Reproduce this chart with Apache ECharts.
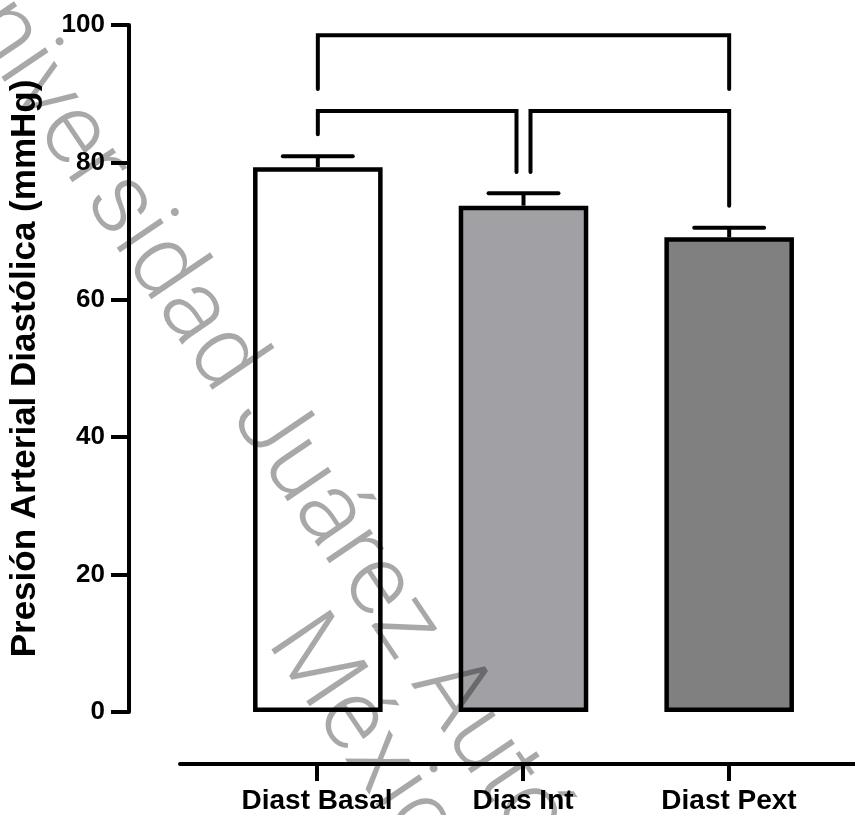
<!DOCTYPE html>
<html lang="es">
<head>
<meta charset="utf-8">
<title>Presión Arterial Diastólica</title>
<script src="https://cdn.jsdelivr.net/npm/echarts@6/dist/echarts.min.js"></script>
<style>
  html, body { margin: 0; padding: 0; background: #fff; }
  #main { width: 855px; height: 815px; }
</style>
</head>
<body>
<div id="main"></div>
<script>
// datos
var categorias = ['Diast Basal', 'Dias Int', 'Diast Pext'];
var medias = [79.3, 73.7, 69.1];
var errores = [1.6, 1.8, 1.4];
var colores = ['#ffffff', '#a1a0a5', '#808080'];
var yTicks = [0, 20, 40, 60, 80, 100];

// corchetes de comparación: [desde, hasta, altura, fin izq, fin der]
var corchetes = [
  [0, 2, 98.5, 90.7, 90.7],
  [0, 1, 87.5, 84.1, 78.6],
  [1, 2, 87.5, 78.6, 73.7]
];

var marcaAgua = ['Universidad Juárez Autónoma de Tabasco', 'México'];

var chart = echarts.init(document.getElementById('main'));
var fuente = '"Liberation Sans", Arial, sans-serif';

function compartido(idx, cat, alto) {
  // otro corchete a la misma altura que toca la misma categoría
  for (var k = 0; k < corchetes.length; k++) {
    if (k === idx || corchetes[k][2] !== alto) continue;
    if (corchetes[k][0] === cat || corchetes[k][1] === cat) return true;
  }
  return false;
}

chart.setOption({
  animation: false,
  backgroundColor: '#fff',
  grid: [
    { left: 214, right: 23, top: 25, bottom: 103 },   // barras
    { left: 180, right: 0, top: 25, bottom: 51 },     // línea del eje x
    { left: 214, right: 23, top: 25, bottom: 51 }     // marcas y etiquetas x
  ],
  xAxis: [{
    type: 'category',
    gridIndex: 0,
    data: categorias,
    show: false
  }, {
    type: 'value',
    gridIndex: 1,
    min: 0, max: 1,
    axisLine: { show: true, lineStyle: { color: '#000', width: 4 } },
    axisTick: { show: false },
    axisLabel: { show: false },
    splitLine: { show: false }
  }, {
    type: 'category',
    gridIndex: 2,
    data: categorias,
    axisLine: { show: false },
    axisTick: { show: true, alignWithLabel: true, length: 18, lineStyle: { color: '#000', width: 4 } },
    axisLabel: { color: '#000', fontSize: 28, fontWeight: 'bold', fontFamily: fuente, margin: 24 },
    splitLine: { show: false }
  }],
  yAxis: [{
    type: 'value',
    gridIndex: 0,
    min: yTicks[0], max: yTicks[yTicks.length - 1], interval: 20,
    offset: 86,
    name: 'Presión Arterial Diastólica (mmHg)',
    nameLocation: 'middle',
    nameGap: 86,
    nameTextStyle: { color: '#000', fontSize: 35, fontWeight: 'bold', fontFamily: fuente },
    axisLine: { show: true, lineStyle: { color: '#000', width: 4 } },
    axisTick: { show: true, length: 18, lineStyle: { color: '#000', width: 4 } },
    axisLabel: { color: '#000', fontSize: 26, fontWeight: 'bold', fontFamily: fuente, margin: 24 },
    splitLine: { show: false }
  }, {
    type: 'value', gridIndex: 1, show: false, min: 0, max: 100
  }, {
    type: 'value', gridIndex: 2, show: false, min: 0, max: 100
  }],
  series: [{
    type: 'bar',
    xAxisIndex: 0, yAxisIndex: 0,
    barWidth: '63%',
    data: medias.map(function (v, i) {
      return { value: v, itemStyle: { color: colores[i] } };
    }),
    itemStyle: { borderColor: '#000', borderWidth: 4.5 },
    z: 2
  }, {
    type: 'custom',
    name: 'error',
    xAxisIndex: 0, yAxisIndex: 0,
    data: medias.map(function (v, i) { return [i, v, v + errores[i]]; }),
    renderItem: function (params, api) {
      var base = api.coord([api.value(0), api.value(1)]);
      var top = api.coord([api.value(0), api.value(2)]);
      var half = api.size([1, 0])[0] * 0.17;
      return {
        type: 'group',
        children: [
          { type: 'line', shape: { x1: base[0], y1: base[1], x2: top[0], y2: top[1] }, style: { stroke: '#000', lineWidth: 4 } },
          { type: 'line', shape: { x1: top[0] - half, y1: top[1], x2: top[0] + half, y2: top[1] }, style: { stroke: '#000', lineWidth: 4, lineCap: 'round' } }
        ]
      };
    },
    z: 3
  }, {
    type: 'custom',
    name: 'corchetes',
    xAxisIndex: 0, yAxisIndex: 0,
    data: corchetes,
    clip: false,
    renderItem: function (params, api) {
      var idx = params.dataIndex;
      var c = corchetes[idx];
      var gap = 7;
      var a = api.coord([c[0], c[2]]);
      var b = api.coord([c[1], c[2]]);
      var aEnd = api.coord([c[0], c[3]]);
      var bEnd = api.coord([c[1], c[4]]);
      var xa = a[0] + (compartido(idx, c[0], c[2]) ? gap : 0);
      var xb = b[0] - (compartido(idx, c[1], c[2]) ? gap : 0);
      return {
        type: 'polyline',
        shape: { points: [[xa, aEnd[1]], [xa, a[1]], [xb, b[1]], [xb, bEnd[1]]] },
        style: { stroke: '#000', lineWidth: 4, fill: null, lineJoin: 'miter', lineCap: 'round' }
      };
    },
    z: 3
  }],
  graphic: [{
    type: 'text',
    x: -50, y: -44,
    rotation: -56 * Math.PI / 180,
    z: 100,
    silent: true,
    style: {
      text: marcaAgua[0],
      font: '300 100px Roboto, "Liberation Sans", sans-serif',
      fill: 'rgba(0,0,0,0.34)',
      textAlign: 'left',
      textVerticalAlign: 'middle'
    }
  }, {
    type: 'text',
    x: 287, y: 628,
    rotation: -56 * Math.PI / 180,
    z: 100,
    silent: true,
    style: {
      text: marcaAgua[1],
      font: '300 100px Roboto, "Liberation Sans", sans-serif',
      fill: 'rgba(0,0,0,0.34)',
      textAlign: 'left',
      textVerticalAlign: 'middle'
    }
  }]
});
</script>
</body>
</html>
